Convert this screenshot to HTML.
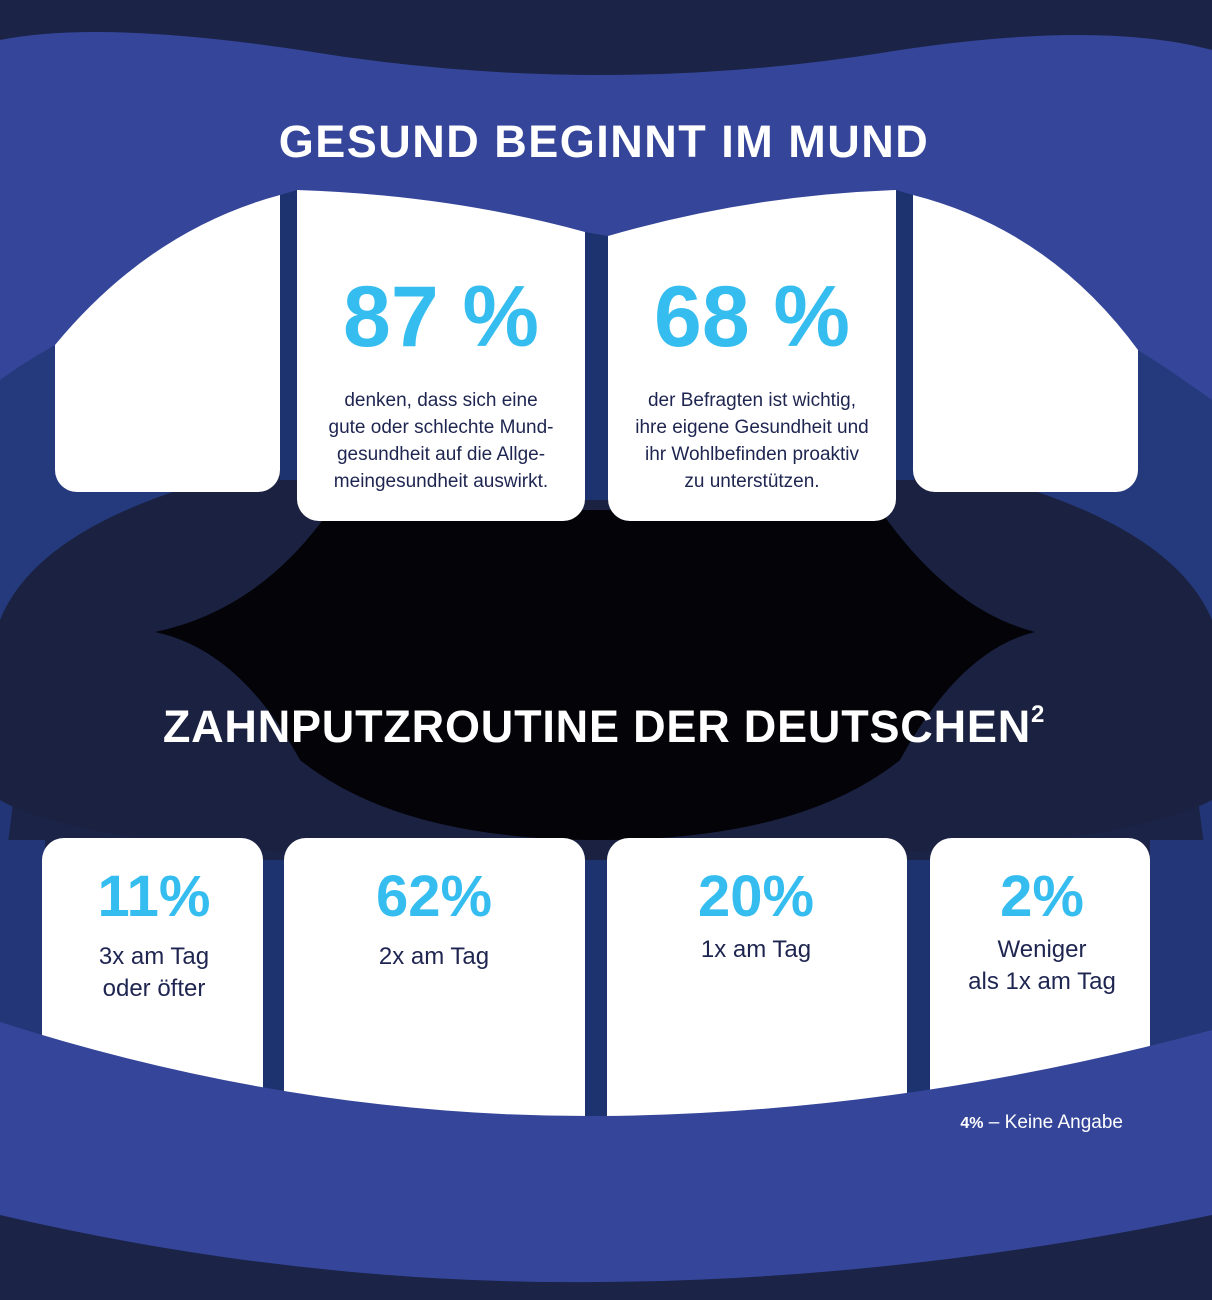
<!DOCTYPE html>
<html><head><meta charset="utf-8"><style>
html,body{margin:0;padding:0;width:1212px;height:1300px;overflow:hidden;background:#1b2347}
svg{display:block}
text{font-family:"Liberation Sans",sans-serif}
</style></head><body>
<svg width="1212" height="1300" viewBox="0 0 1212 1300" xmlns="http://www.w3.org/2000/svg">
<rect width="1212" height="1300" fill="#1b2347"/>
<path d="M0 200 Q60 500 0 900 Z" fill="#223677"/>
<path d="M1212 200 Q1150 500 1212 900 Z" fill="#223677"/>
<path d="M0 300 Q200 350 330 520 L0 700 Z" fill="#243a7c"/>
<path d="M1212 300 Q1010 350 880 520 L1212 700 Z" fill="#243a7c"/>
<path d="M0 620 Q40 520 250 470 L960 470 Q1170 520 1212 620 L1212 800 Q1100 860 600 860 Q100 860 0 800 Z" fill="#1b2140"/>
<path d="M155 632 Q260 610 330 510 L880 510 Q950 610 1035 632 Q960 650 900 760 Q800 840 600 840 Q400 840 300 760 Q240 650 155 632 Z" fill="#030308"/>
<rect x="280" y="180" width="20" height="300" fill="#1d3370"/>
<rect x="585" y="220" width="25" height="280" fill="#1d3370"/>
<rect x="896" y="180" width="18" height="300" fill="#1d3370"/>
<rect x="55" y="150" width="225" height="342" rx="22" fill="#fff"/>
<rect x="297" y="150" width="288" height="371" rx="22" fill="#fff"/>
<rect x="608" y="150" width="288" height="371" rx="22" fill="#fff"/>
<rect x="913" y="150" width="225" height="342" rx="22" fill="#fff"/>
<path d="M0 0 L1212 0 L1212 400 Q1170 370 1138 350 Q1050 230 913 195 L896 190 Q750 195 608 236 L585 232 Q450 195 297 190 L280 195 Q150 230 55 345 Q20 365 0 380 Z" fill="#35469a"/>
<path d="M0 0 L1212 0 L1212 50 Q1100 20 900 50 Q750 75 600 75 Q450 75 300 50 Q100 20 0 40 Z" fill="#1b2347"/>
<rect x="263" y="860" width="22" height="260" fill="#1d3370"/>
<rect x="585" y="860" width="22" height="260" fill="#1d3370"/>
<rect x="907" y="860" width="24" height="260" fill="#1d3370"/>
<rect x="0" y="840" width="45" height="260" fill="#233677"/>
<rect x="1150" y="840" width="62" height="260" fill="#233677"/>
<rect x="42" y="838" width="221" height="300" rx="22" fill="#fff"/>
<rect x="284" y="838" width="301" height="300" rx="22" fill="#fff"/>
<rect x="607" y="838" width="300" height="300" rx="22" fill="#fff"/>
<rect x="930" y="838" width="220" height="300" rx="22" fill="#fff"/>
<path d="M0 1022 Q300 1118 600 1116 Q900 1114 1212 1030 L1212 1300 L0 1300 Z" fill="#35469a"/>
<path d="M0 1215 Q300 1285 600 1282 Q900 1280 1212 1215 L1212 1300 L0 1300 Z" fill="#1b2347"/>
<text x="604" y="157" text-anchor="middle" font-size="45" font-weight="bold" fill="#fff" letter-spacing="1.5">GESUND BEGINNT IM MUND</text>
<text x="604" y="742" text-anchor="middle" font-size="45" font-weight="bold" fill="#fff" letter-spacing="0.8">ZAHNPUTZROUTINE DER DEUTSCHEN<tspan font-size="24" dy="-20">2</tspan></text>
<text x="441" y="346" text-anchor="middle" font-size="86" font-weight="bold" fill="#35bdf0">87 %</text>
<text x="752" y="346" text-anchor="middle" font-size="86" font-weight="bold" fill="#35bdf0">68 %</text>
<g font-size="19" fill="#1e2550" text-anchor="middle">
<text x="441" y="406">denken, dass sich eine</text>
<text x="441" y="433">gute oder schlechte Mund-</text>
<text x="441" y="460">gesundheit auf die Allge-</text>
<text x="441" y="487">meingesundheit auswirkt.</text>
<text x="752" y="406">der Befragten ist wichtig,</text>
<text x="752" y="433">ihre eigene Gesundheit und</text>
<text x="752" y="460">ihr Wohlbefinden proaktiv</text>
<text x="752" y="487">zu unterstützen.</text>
</g>
<g font-size="58" font-weight="bold" fill="#35bdf0" text-anchor="middle">
<text x="154" y="916">11%</text>
<text x="434" y="916">62%</text>
<text x="756" y="916">20%</text>
<text x="1042" y="916">2%</text>
</g>
<g font-size="24" fill="#1e2550" text-anchor="middle">
<text x="154" y="964">3x am Tag</text>
<text x="154" y="996">oder öfter</text>
<text x="434" y="964">2x am Tag</text>
<text x="756" y="957">1x am Tag</text>
<text x="1042" y="957">Weniger</text>
<text x="1042" y="989">als 1x am Tag</text>
</g>
<text x="1123" y="1128" text-anchor="end" font-size="19" fill="#fff"><tspan font-weight="bold" font-size="16">4%</tspan> – Keine Angabe</text>
</svg>
</body></html>
